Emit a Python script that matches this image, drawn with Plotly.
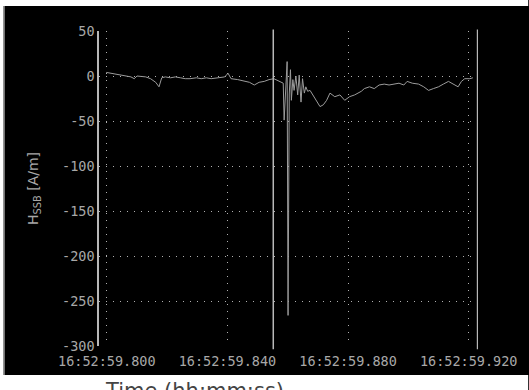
import pandas as pd
import plotly.graph_objects as go

# time offsets in milliseconds after 16:52:59
t_ms = [799.8, 801.4, 805.1, 808.0, 809.1, 810.0, 812.9, 814.5, 816.2, 817.3,
        818.2, 819.4, 821.1, 822.7, 824.4, 826.0, 827.6, 829.7, 831.3, 833.0,
        834.6, 836.9, 839.1, 840.2, 841.2, 843.4, 845.6, 847.3, 848.9, 850.5,
        852.2, 853.8, 855.4, 857.5, 858.5, 858.8, 859.3, 859.8, 860.1, 860.5,
        860.9, 861.2, 861.7, 862.1, 862.7, 863.3, 863.8, 864.4, 864.9, 865.5,
        866.0, 866.6, 867.4, 869.1, 870.7, 871.8, 872.9, 874.0, 875.6, 877.3,
        878.9, 880.5, 882.2, 884.4, 885.4, 887.1, 888.7, 890.3, 892.0, 893.6,
        895.3, 896.9, 898.5, 899.6, 901.3, 903.4, 905.1, 906.7, 908.3, 910.0,
        911.6, 913.3, 916.5, 917.6, 918.7, 920.4, 921.4]
h_ssb = [4, 3, 0, -1, -3, 0, -1, -3, -7, -12,
         -2, -1, -2, -1, -2, -3, -3, -2, -3, -2,
         -3, -2, -1, 3, -3, -4, -6, -7, -10, -7,
         -6, -4, -3, -6, -8, -49, -8, 16, -266, -20,
         7, -27, -4, -16, 0, -21, 1, -29, -3, -19,
         -12, -17, -16, -25, -34, -32, -27, -19, -23, -21,
         -27, -23, -21, -17, -14, -12, -14, -10, -9, -10,
         -9, -8, -10, -6, -8, -9, -12, -16, -14, -12,
         -9, -6, -12, -6, -3, -3, -2]

cursor_ms = [855.2, 922.95]
x_tick_ms = [800, 840, 880, 920]
y_ticks = [50, 0, -50, -100, -150, -200, -250, -300]
y_tick_text = ["50", "0", "-50", "-100", "-150", "-200", "-250", "-300"]

base = pd.Timestamp("2024-01-01 16:52:59")
def to_time(ms):
    return base + pd.to_timedelta(ms, unit="ms")

x = [to_time(v) for v in t_ms]

GRAY = "#a8a8a8"
MONO = "DejaVu Sans Mono"
FONT = "DejaVu Sans"

fig = go.Figure()
fig.add_trace(go.Scatter(x=x, y=h_ssb, mode="lines",
                         line=dict(color="#9c9c9c", width=1), showlegend=False))

for c in cursor_ms:
    fig.add_shape(type="line", xref="x", yref="paper", x0=to_time(c), x1=to_time(c),
                  y0=-0.01, y1=1.005, line=dict(color="#b8b8b8", width=1.5))

L, R, T, B = 99, 45, 31, 44
W = 529 - L - R
H = 390 - T - B
def px(v):
    return (v - L) / W
def py(v):
    return (390 - B - v) / H

# white strips outside the black panel
fig.add_shape(type="rect", xref="paper", yref="paper", x0=px(-5), x1=px(535),
              y0=py(6), y1=py(-5), fillcolor="white", line_width=0, layer="above")
fig.add_shape(type="rect", xref="paper", yref="paper", x0=px(-5), x1=px(535),
              y0=py(395), y1=py(375), fillcolor="white", line_width=0, layer="above")
fig.add_shape(type="rect", xref="paper", yref="paper", x0=px(-5), x1=px(2),
              y0=py(395), y1=py(-5), fillcolor="white", line_width=0, layer="above")
fig.add_shape(type="line", xref="paper", yref="paper", x0=px(2.5), x1=px(2.5),
              y0=py(375), y1=py(6), line=dict(color="#9a9a9a", width=1.5), layer="above")

fig.add_annotation(text="Time (hh:mm:ss)", xref="paper", yref="paper",
                   x=px(103), y=py(377), xanchor="left", yanchor="top",
                   showarrow=False, font=dict(family=FONT, size=21, color="#444444"))

fig.update_layout(
    width=529, height=390,
    margin=dict(l=L, r=R, t=T, b=B),
    paper_bgcolor="black", plot_bgcolor="black",
    font=dict(family=MONO, size=13, color=GRAY),
    xaxis=dict(type="date", range=[to_time(797.4), to_time(923.1)],
               tickvals=[to_time(v) for v in x_tick_ms], tickformat="%H:%M:%S.%L",
               showgrid=True, gridcolor="#b0b0b0", griddash="1px,6px", gridwidth=1,
               zeroline=False, showline=False, ticks="", ticklabelstandoff=5,
               tickfont=dict(family=MONO, size=13.5, color=GRAY)),
    yaxis=dict(range=[-300, 50], tickvals=y_ticks, ticktext=y_tick_text,
               showgrid=True, gridcolor="#b0b0b0", griddash="1px,6px", gridwidth=1,
               zeroline=False, showline=True, linecolor="#b8b8b8", linewidth=1.5,
               ticks="", tickfont=dict(family=MONO, size=13.5, color=GRAY),
               title=dict(text="H<sub>SSB</sub> [A/m]", standoff=20,
                          font=dict(family=FONT, size=14, color=GRAY))),
)

fig.write_html("out.html", config={"displayModeBar": False},
               post_script="document.body.style.margin='0';document.body.style.overflow='hidden';")
